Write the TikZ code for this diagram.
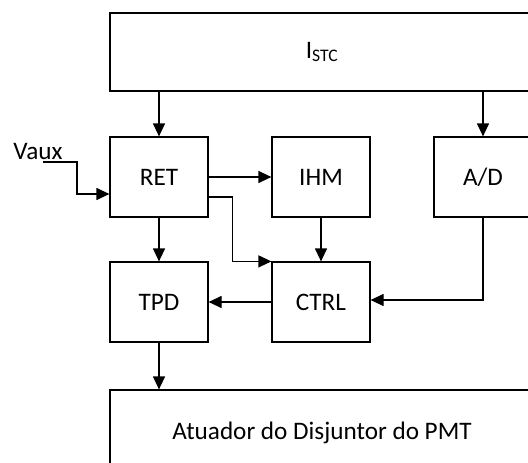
\documentclass[tikz,border=0pt]{standalone}
\usepackage{fontspec}
\setmainfont{Carlito}
\usepackage{tikz}
\usetikzlibrary{positioning, arrows.meta}

\begin{document}
\begin{tikzpicture}[x=1pt, y=-1pt, >={Triangle[length=13pt, width=12pt]}, line width=1.2pt,
                    blk/.style={draw, line width=1.2pt, minimum width=98pt, minimum height=80pt,
                                font=\fontsize{25.2}{30}\selectfont},
                    wide/.style={blk, minimum width=424pt}]
    \useasboundingbox (0,0) rectangle (528,463);
    \clip (0,0) rectangle (528,463);

    % Blocks
    \node[wide, minimum height=78pt] (istc) at (322,52) {I\textsubscript{STC}};
    \node[blk] (ret) at (159,177) {RET};
    \node[blk] (ihm) at (321,177) {IHM};
    \node[blk] (ad) at (483,177) {A/D};
    \node[blk] (tpd) at (159,302) {TPD};
    \node[blk] (ctrl) at (321,302) {CTRL};
    \node[wide, minimum height=86pt] (act) at (322,433) {Atuador do Disjuntor do PMT};

    % Auxiliary supply input
    \node[font=\fontsize{25.2}{30}\selectfont, inner sep=0pt] (vaux) at (38,152) {Vaux};
    \coordinate (vin) at (43,162);

    % Connections
    \draw[->] (istc.south -| ret) -- (ret);
    \draw[->] (istc.south -| ad) -- (ad);
    \draw[->] (vin) -- ++(34,0) |- ([yshift=-17pt]ret.west);
    \draw[->] (ret) -- (ihm);
    \draw[->] ([yshift=-20pt]ret.east) -- ++(24,0) |- (ctrl.north west);
    \draw[->] (ret) -- (tpd);
    \draw[->] (ihm) -- (ctrl);
    \draw[->] (ad.south) |- ([yshift=2pt]ctrl.east);
    \draw[->] (ctrl) -- (tpd);
    \draw[->] (tpd.south) -- (tpd.south |- act.north);
\end{tikzpicture}
\end{document}
